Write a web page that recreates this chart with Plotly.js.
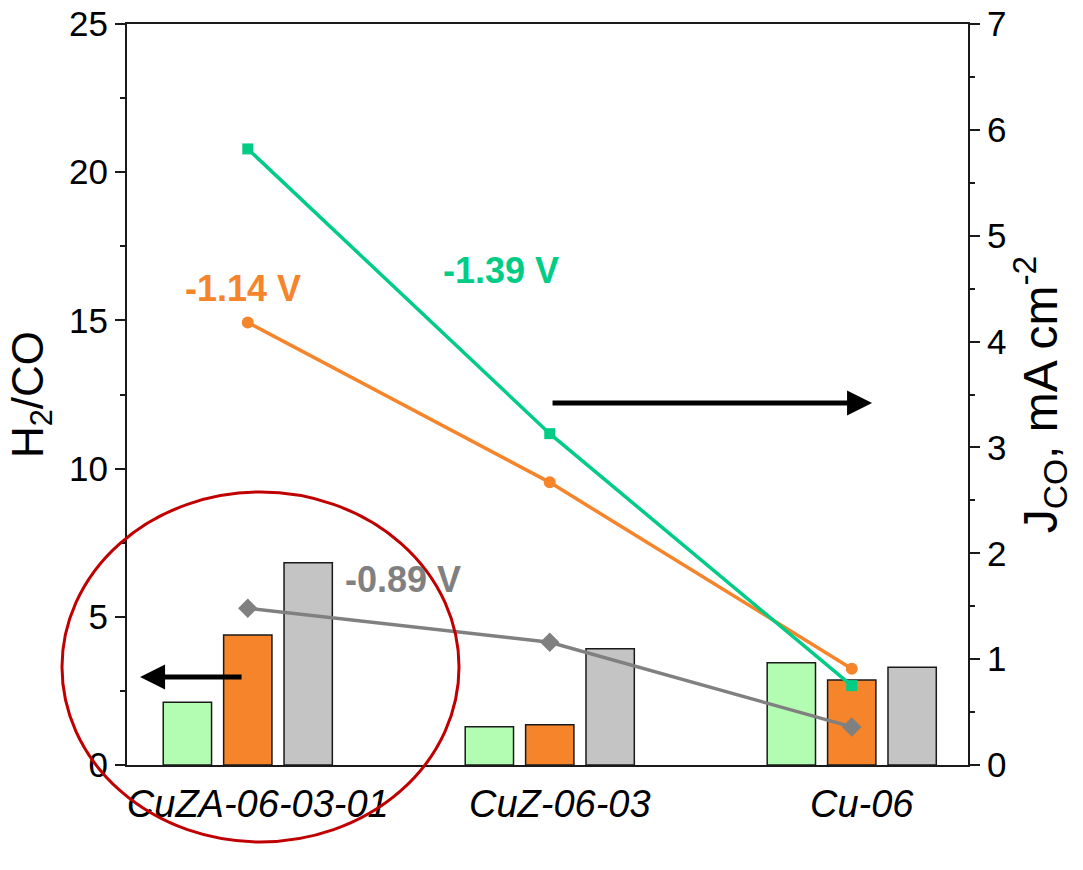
<!DOCTYPE html>
<html>
<head>
<meta charset="utf-8">
<script src="https://cdn.plot.ly/plotly-3.0.1.min.js"></script>
<style>
  html, body { margin: 0; padding: 0; background: #ffffff; }
  #chart { width: 1083px; height: 870px; }
</style>
</head>
<body>
<div id="chart"></div>
<script>
// ---- data ----
const categories = ['CuZA-06-03-01', 'CuZ-06-03', 'Cu-06'];
// H2/CO ratio (left axis, bars)
const h2co_139 = [2.12, 1.29, 3.45];   // -1.39 V (light green)
const h2co_114 = [4.39, 1.36, 2.87];   // -1.14 V (orange)
const h2co_089 = [6.82, 3.92, 3.30];   // -0.89 V (grey)
// J_CO, mA cm^-2 (right axis, lines)
const jco_139 = [5.82, 3.13, 0.75];
const jco_114 = [4.18, 2.67, 0.91];
const jco_089 = [1.48, 1.16, 0.36];
const seriesNames = ['-1.39 V', '-1.14 V', '-0.89 V'];

const FONT = 'Liberation Sans, Arial, sans-serif';
const barLine = { color: '#1a1a1a', width: 1.5 };

const traces = [
  { type: 'bar', x: categories, y: h2co_139, name: seriesNames[0],
    marker: { color: '#b3fdb3', line: barLine }, yaxis: 'y' },
  { type: 'bar', x: categories, y: h2co_114, name: seriesNames[1],
    marker: { color: '#f5842a', line: barLine }, yaxis: 'y' },
  { type: 'bar', x: categories, y: h2co_089, name: seriesNames[2],
    marker: { color: '#c4c4c4', line: barLine }, yaxis: 'y' },
  { type: 'scatter', mode: 'lines+markers', x: categories, y: jco_089, name: seriesNames[2],
    yaxis: 'y2', line: { color: '#808080', width: 3.5 },
    marker: { symbol: 'diamond', size: 15, color: '#808080' } },
  { type: 'scatter', mode: 'lines+markers', x: categories, y: jco_114, name: seriesNames[1],
    yaxis: 'y2', line: { color: '#f5842a', width: 3.5 },
    marker: { symbol: 'circle', size: 12, color: '#f5842a' } },
  { type: 'scatter', mode: 'lines+markers', x: categories, y: jco_139, name: seriesNames[0],
    yaxis: 'y2', line: { color: '#00cc85', width: 3.5 },
    marker: { symbol: 'square', size: 11, color: '#00cc85' } }
];

const axisColor = '#1a1a1a';

const layout = {
  width: 1083, height: 870,
  margin: { l: 127, r: 115, t: 24, b: 105 },
  paper_bgcolor: '#ffffff', plot_bgcolor: '#ffffff',
  showlegend: false,
  barmode: 'group', bargap: 0.4, bargroupgap: 0.2,
  font: { family: FONT, color: '#000' },
  xaxis: {
    type: 'category', range: [-0.4, 2.385],
    showline: true, linecolor: axisColor, linewidth: 2, mirror: true,
    ticks: '', showgrid: false, zeroline: false,
    tickfont: { family: FONT, size: 38, style: 'italic', color: '#000' },
    ticklabelstandoff: 4, ticklabelshift: 10
  },
  yaxis: {
    range: [0, 25], dtick: 5, tick0: 0,
    showline: true, linecolor: axisColor, linewidth: 2,
    ticks: 'outside', ticklen: 10, tickwidth: 2, tickcolor: axisColor,
    minor: { dtick: 2.5, ticks: 'outside', ticklen: 5, tickwidth: 2, tickcolor: axisColor, showgrid: false },
    showgrid: false, zeroline: false,
    tickfont: { family: FONT, size: 35, color: '#000' },
    title: { text: 'H<sub>2</sub>/CO', font: { family: FONT, size: 44, color: '#000' }, standoff: 12 }
  },
  yaxis2: {
    overlaying: 'y', side: 'right',
    range: [0, 7], dtick: 1, tick0: 0,
    showline: true, linecolor: axisColor, linewidth: 2,
    ticks: 'outside', ticklen: 10, tickwidth: 2, tickcolor: axisColor,
    minor: { dtick: 0.5, ticks: 'outside', ticklen: 5, tickwidth: 2, tickcolor: axisColor, showgrid: false },
    showgrid: false, zeroline: false,
    tickfont: { family: FONT, size: 35, color: '#000' },
    title: { text: 'J<sub>CO</sub>, mA cm<sup>-2</sup>', font: { family: FONT, size: 48, color: '#000' }, standoff: 14 }
  },
  annotations: [
    { xref: 'paper', yref: 'paper', x: 0.1379, y: 0.6424, xanchor: 'center', yanchor: 'middle',
      text: '<b>-1.14 V</b>', showarrow: false,
      font: { family: FONT, size: 36, color: '#f5842a' } },
    { xref: 'paper', yref: 'paper', x: 0.4447, y: 0.6667, xanchor: 'center', yanchor: 'middle',
      text: '<b>-1.39 V</b>', showarrow: false,
      font: { family: FONT, size: 36, color: '#00cc85' } },
    { xref: 'paper', yref: 'paper', x: 0.3282, y: 0.251, xanchor: 'center', yanchor: 'middle',
      text: '<b>-0.89 V</b>', showarrow: false,
      font: { family: FONT, size: 36, color: '#808080' } },
    // right-pointing arrow (towards J_CO axis)
    { xref: 'paper', yref: 'paper', x: 0.8859, y: 0.4885, ax: -321, ay: 0, text: '',
      showarrow: true, arrowhead: 2, arrowsize: 1, arrowwidth: 5, arrowcolor: '#000' },
    // left-pointing arrow (towards H2/CO axis)
    { xref: 'paper', yref: 'paper', x: 0.0155, y: 0.1188, ax: 103, ay: 0, text: '',
      showarrow: true, arrowhead: 2, arrowsize: 1, arrowwidth: 5, arrowcolor: '#000' }
  ],
  shapes: [
    { type: 'circle', xref: 'paper', yref: 'paper', layer: 'above',
      x0: -0.0773, x1: 0.3948, y0: -0.1039, y1: 0.3684,
      line: { color: '#c00000', width: 3 } }
  ]
};

Plotly.newPlot('chart', traces, layout, { displayModeBar: false, staticPlot: true });
</script>
</body>
</html>
